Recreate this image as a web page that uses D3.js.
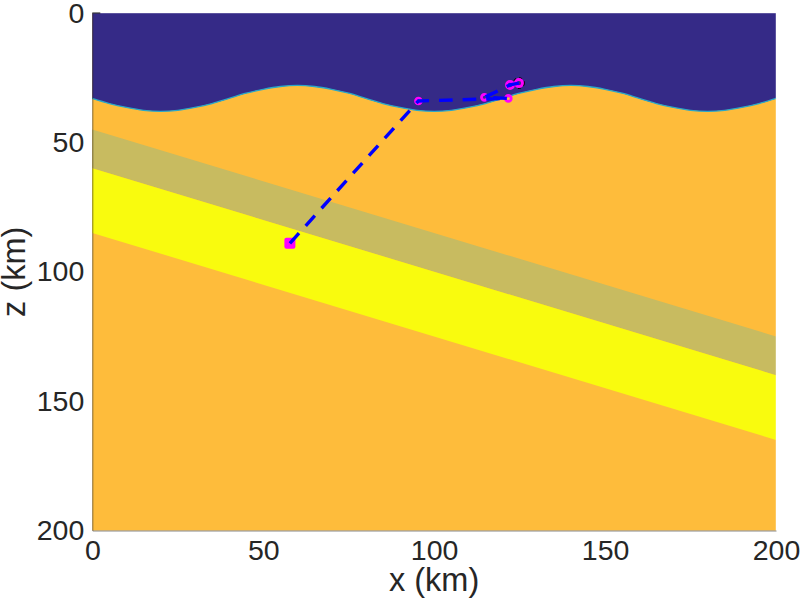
<!DOCTYPE html>
<html><head><meta charset="utf-8">
<style>html,body{margin:0;padding:0;background:#fff}svg{display:block}</style>
<script src="https://cdn.jsdelivr.net/npm/d3@7"></script></head>
<body><svg id="c" width="800" height="600"></svg>
<script>
const xTicks=[0,50,100,150,200];
const zTicks=[0,50,100,150,200];
const surfaceX=[0,5,10,15,20,25,30,35,40,45,50,55,60,65,70,75,80,85,90,95,100,105,110,115,120,125,130,135,140,145,150,155,160,165,170,175,180,185,190,195,200];
const surfaceZ=[33,35,36.5,37.6,38,37.6,36.5,35,33,31,29.5,28.4,28,28.4,29.5,31,33,35,36.5,37.6,38,37.6,36.5,35,33,31,29.5,28.4,28,28.4,29.5,31,33,35,36.5,37.6,38,37.6,36.5,35,33];
const bandX=[0,200];
const bandTop=[45,125];
const bandMid=[60,140];
const bandBottom=[85,165];
const pathX=[57.8,95.4,121.7,114.7,122.2,124.8];
const pathZ=[89,34,33,32.6,27.8,27.1];
const colors={water:"#352a87",rock:"#febc3b",crust:"#c8bb60",mantle:"#f9fb0e",edge:"#2aa8c8"};

const svg=d3.select("#c");
const L=92.3,R=776,T=13,B=530.5;
const x=d3.scaleLinear().domain([0,200]).range([L,R]);
const z=d3.scaleLinear().domain([0,200]).range([T,B]);

svg.append("rect").attr("x",x(0)).attr("y",z(0)).attr("width",x(200)-x(0)).attr("height",z(200)-z(0)).attr("fill",colors.rock);
const band=(a,b,c)=>svg.append("path").attr("fill",c).attr("d",d3.area().x((d,i)=>x(bandX[i])).y0((d,i)=>z(a[i])).y1((d,i)=>z(b[i]))(bandX));
band(bandTop,bandMid,colors.crust);
band(bandMid,bandBottom,colors.mantle);
const water=d3.area().x((d,i)=>x(surfaceX[i])).y0(z(0)).y1((d,i)=>z(surfaceZ[i])).curve(d3.curveCatmullRom);
svg.append("path").attr("fill",colors.water).attr("d",water(surfaceX));
svg.append("path").attr("fill","none").attr("stroke",colors.edge).attr("stroke-width",1.3)
 .attr("d",d3.line().x((d,i)=>x(surfaceX[i])).y((d,i)=>z(surfaceZ[i])).curve(d3.curveCatmullRom)(surfaceX));

// axes
const axX=svg.append("g").attr("transform",`translate(0,${B})`).call(d3.axisBottom(x).tickValues(xTicks).tickSize(0).tickPadding(9.5));
const axY=svg.append("g").attr("transform",`translate(${L},0)`).call(d3.axisLeft(z).tickValues(zTicks).tickSize(0).tickPadding(8));
[axX,axY].forEach(a=>{a.selectAll("path").attr("stroke","#262626").attr("stroke-opacity",.55).attr("stroke-width",1);
 a.selectAll("text").attr("fill","#262626").style("font","28.5px 'Liberation Sans',sans-serif");});
svg.append("path").attr("d",`M${L},${T}H${R}V${B}`).attr("fill","none").attr("stroke","#fff").attr("stroke-opacity",.4).attr("stroke-width",1);
svg.append("path").attr("d",`M${L},${T}h8`).attr("fill","none").attr("stroke","#111").attr("stroke-width",1);

svg.append("text").attr("x",(L+R)/2).attr("y",591).attr("text-anchor","middle").attr("fill","#262626").style("font","32.5px 'Liberation Sans',sans-serif").text("x (km)");
svg.append("text").attr("transform",`translate(25,${(T+B)/2}) rotate(-90)`).attr("text-anchor","middle").attr("fill","#262626").style("font","32.5px 'Liberation Sans',sans-serif").text("z (km)");

// track
const pts=pathX.map((d,i)=>[x(d),z(pathZ[i])]);
const last=pts[pts.length-1];
svg.append("circle").attr("cx",last[0]).attr("cy",last[1]).attr("r",5.2).attr("fill","none").attr("stroke","#000").attr("stroke-width",1.4).attr("stroke-dasharray","3 3");
const markers=svg.selectAll("g.m").data(pts).join("g").attr("class","m");
markers.filter((d,i)=>i>0).append("circle").attr("cx",d=>d[0]).attr("cy",d=>d[1]).attr("r",(d,i)=>i>=3?3.6:2.9).attr("fill","none").attr("stroke","#ff00ff").attr("stroke-width",2.8);
markers.filter((d,i)=>i===0).append("rect").attr("x",d=>d[0]-5.5).attr("y",d=>d[1]-5.5).attr("width",11).attr("height",11).attr("rx",2).attr("fill","#ff00ff");
svg.append("path").attr("fill","none").attr("stroke","#0000ff").attr("stroke-width",3.4).attr("stroke-dasharray","13.6 10").attr("d",d3.line()(pts));
</script></body></html>
